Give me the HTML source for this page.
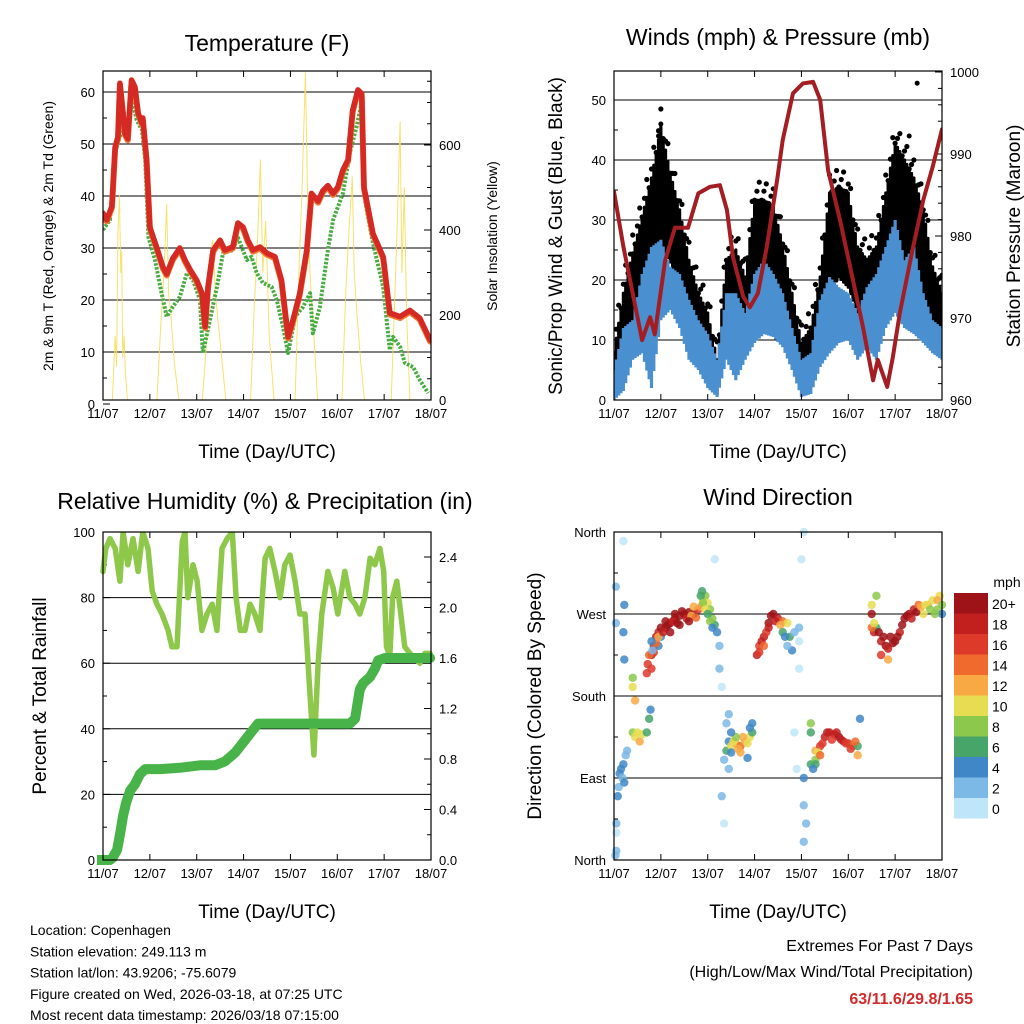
<!DOCTYPE html>
<html><head><meta charset="utf-8"><style>
body{margin:0;background:#fff;}
svg{display:block;font-family:"Liberation Sans",sans-serif;}
</style></head><body>
<svg id="s" width="1024" height="1024" viewBox="0 0 1024 1024"></svg>
<script>
// ---------- DATA ----------
const dayLabels=["11/07","12/07","13/07","14/07","15/07","16/07","17/07","18/07"];
const tempTimes=[0,0.08,0.19,0.26,0.32,0.36,0.40,0.47,0.53,0.61,0.68,0.75,0.83,0.85,0.93,1.00,1.15,1.28,1.36,1.49,1.64,1.75,1.86,2.00,2.11,2.18,2.24,2.35,2.50,2.60,2.77,2.88,2.99,3.09,3.20,3.35,3.50,3.67,3.81,3.95,4.05,4.20,4.35,4.45,4.59,4.69,4.80,4.91,5.01,5.12,5.23,5.33,5.44,5.52,5.57,5.76,5.98,6.12,6.34,6.55,6.76,6.98];
const tempT=[36.7,35.4,38,49.5,51.4,61.7,58.5,52,51,62.3,61,56,54,55,47,34,30,26.3,25,28,30,27.7,25.8,23.8,21.3,14.9,22.5,29.6,31.5,29.6,30.2,34.8,34,31.5,29.6,30.2,29,28.3,23.8,12.9,16,21.3,29.6,40.5,39,41,42,40.5,41.7,45,47,56.5,60.4,59.7,41.7,32.8,28.3,17.5,16.8,18,16.5,12.3];
const dewTimes=[0,0.15,0.26,0.36,0.40,0.47,0.53,0.61,0.72,0.83,0.90,0.97,1.11,1.25,1.36,1.49,1.64,1.79,1.92,2.07,2.13,2.28,2.43,2.56,2.77,2.88,3.07,3.17,3.28,3.41,3.60,3.71,3.84,3.95,4.10,4.27,4.42,4.48,4.63,4.80,4.91,5.12,5.27,5.41,5.52,5.59,5.76,5.98,6.12,6.19,6.34,6.44,6.62,6.76,6.94];
const dewT=[33.5,35.4,48.3,51.4,55.2,51.4,50.8,59,54.6,52.7,47,32,27.7,21.3,16.8,18.7,20.6,25.2,23.8,20,9.8,16,22.5,29,29.6,32,27.7,28.3,25.2,23.3,22.5,20,14.9,9.8,16.8,18.7,21.3,13.6,18.7,29.6,35.4,40.5,48.3,53.3,57.9,39.2,31,22.5,10.4,12.9,11,7.9,7.1,4.6,2.1];
const solarTimes=[0,0.2,0.26,0.29,0.32,0.35,0.38,0.40,0.42,0.45,0.48,0.52,1.15,1.22,1.30,1.36,1.40,1.45,1.52,1.62,2.12,2.20,2.28,2.34,2.40,2.46,2.55,2.62,3.15,3.22,3.30,3.36,3.41,3.47,3.55,3.65,4.10,4.18,4.25,4.32,4.38,4.44,4.50,4.58,5.10,5.18,5.25,5.32,5.36,5.42,5.50,5.58,6.15,6.22,6.28,6.34,6.38,6.43,6.48,6.55,7.0];
const solarW=[0,0,150,80,400,480,300,350,100,150,60,0,0,150,300,460,250,200,90,0,0,120,330,376,250,180,80,0,0,200,380,565,300,420,150,0,0,300,500,770,400,250,150,0,0,250,400,525,300,200,90,0,0,220,420,655,300,500,200,0,0];
const windStepDays=0.2;
const gustHi=[7.8,17.8,24.5,30.5,37,45.5,37.8,31.7,23.3,17.8,14.5,6.7,23.3,25,20.5,33.3,33.3,32.2,26,17.8,9.5,12,20.5,34.5,35.5,34.5,25.5,23.3,25.5,34.5,42.8,40,37,31.7,22.2,17.8];
const gustLo=[0,6.7,12,14.5,20.5,26,23,17.8,12,9.5,7.8,1,11,13.3,11,17.8,18.8,17.8,14.5,7.8,2,3.3,8.8,17.8,20.5,18.8,14.5,12,11,17.8,23.3,23.3,20.5,17.8,13.3,9.5];
const windHi=[5,12,13.3,21,25.5,26.7,22.2,21,16.7,13.3,11,6.7,17.8,17.8,14.5,21,23.3,21,17.8,12,6.7,7.8,16.7,20.5,18.8,17.8,14.5,18.8,21,25.5,30,23.3,25.5,17.8,13.3,12];
const windLo=[0,1.5,6.7,7.8,2,13.3,15,12,6.7,5,2,0.5,6.7,3.3,6.7,9.5,11,10.5,8.8,5,0.5,1,5.5,7.8,9.5,10,6.7,8.8,6.7,12,14.5,12,11,9.5,7.8,6.7];
const gustPeakTimes=[0.95,1.0,6.47,6.3];
const gustPeakVals=[44,46,52.8,44];
const presTimes=[0,0.2,0.4,0.6,0.77,0.87,1.09,1.3,1.58,1.8,2.05,2.26,2.41,2.54,2.76,2.9,3.07,3.26,3.48,3.6,3.82,4.03,4.25,4.4,4.57,4.82,5.04,5.31,5.53,5.63,5.83,5.95,6.1,6.36,6.6,6.8,7.0];
const presMb=[985.4,978.7,973,967.3,970.1,968,977,981,981,985.2,986,986.2,983.2,977.4,972.6,971.3,973,978.7,986.8,991.7,997.4,998.6,998.8,996.6,988,982,976.2,969,962.4,964.9,961.6,965.2,970.6,978,984.4,988.4,993];
const rhTimes=[0,0.06,0.15,0.26,0.36,0.43,0.53,0.64,0.75,0.85,0.96,1.05,1.15,1.26,1.39,1.47,1.58,1.69,1.75,1.81,1.92,2.01,2.11,2.22,2.33,2.43,2.54,2.65,2.76,2.84,2.93,3.03,3.14,3.24,3.35,3.46,3.56,3.67,3.78,3.88,3.99,4.10,4.20,4.31,4.42,4.50,4.59,4.67,4.80,4.91,5.01,5.16,5.27,5.38,5.48,5.59,5.70,5.80,5.91,5.99,6.05,6.12,6.18,6.27,6.33,6.44,6.55,6.76,6.87,6.98];
const rhPct=[88,95,98,95,85,100,90,98,88,100,95,82,78,75,70,65,65,97,100,80,90,85,70,75,78,70,95,98,100,80,70,70,78,75,70,92,95,88,80,90,93,85,75,75,50,32,60,75,88,83,75,88,80,78,75,80,92,90,95,88,65,62,80,85,78,65,63,60,63,63];
const rainTimes=[-0.13,0.15,0.21,0.30,0.36,0.43,0.49,0.58,0.68,0.79,0.90,1.00,1.22,1.64,2.07,2.39,2.60,2.82,3.03,3.18,3.31,3.46,4.08,5.27,5.38,5.48,5.55,5.70,5.81,5.87,6.02,6.98];
const rainIn=[0,0,0.02,0.08,0.2,0.35,0.45,0.55,0.6,0.68,0.72,0.72,0.72,0.73,0.75,0.75,0.78,0.85,0.95,1.02,1.08,1.08,1.08,1.08,1.12,1.35,1.40,1.45,1.52,1.58,1.60,1.60];
const dirTimes=[0.05,0.05,0.08,0.1,0.12,0.15,0.18,0.2,0.22,0.05,0.03,0.25,0.28,0.04,0.04,0.2,0.22,0.22,0.2,
0.4,0.45,0.5,0.55,0.6,0.7,0.45,0.4,0.4,0.75,0.78,
0.8,0.8,0.85,0.9,0.95,1.0,1.0,0.95,1.1,1.2,1.3,1.4,1.5,1.6,1.7,1.8,1.85,1.9,1.95,2.0,2.05,2.1,2.15,2.2,2.25,2.25,2.3,2.4,2.35,2.3,2.35,2.15,
2.4,2.45,2.5,2.6,2.7,2.8,2.9,2.95,2.95,2.45,2.45,
3.05,3.1,3.2,3.3,3.4,3.5,3.6,3.7,3.75,3.8,3.85,3.95,3.95,4.0,4.05,3.95,3.85,3.9,
4.05,4.05,4.1,4.05,4.2,4.2,
4.2,4.3,4.4,4.5,4.6,4.7,4.8,4.9,5.0,5.1,5.2,5.2,5.25,4.3,
5.5,5.55,5.6,5.7,5.8,5.85,5.9,6.0,6.1,6.2,6.3,6.4,6.5,6.6,6.7,6.8,6.9,6.95,7.0,5.6,5.5,
0.85,0.9,0.95,1.05,1.1,1.15,1.25,1.3,1.35,1.45,1.55,1.65,1.7,1.75,1.6,1.4,1.2,0.75,0.7,0.72,0.8,0.82,
1.85,1.9,1.95,2.0,2.05,2.1,1.88,
2.5,2.55,2.65,2.75,2.85,2.7,2.6,2.5,2.9,2.85,
3.1,3.15,3.25,3.3,3.35,3.45,3.55,3.6,3.65,3.7,3.2,
4.35,4.45,4.55,4.65,4.75,4.85,4.95,5.05,5.15,4.3,4.25,4.4,
5.55,5.65,5.75,5.85,5.95,6.05,6.15,6.25,6.35,6.45,6.55,6.65,6.75,6.85,6.9,7.0,5.7,5.5];
const dirDeg=[10,40,70,80,95,100,90,105,85,30,5,115,120,300,260,250,280,220,350,
140,135,140,130,138,140,175,190,200,155,165,
210,225,235,245,250,255,245,235,255,260,265,268,270,272,270,275,278,285,290,282,275,265,258,250,235,210,190,150,110,70,40,330,
120,130,125,128,125,130,135,140,150,160,100,
225,235,245,260,270,265,262,260,245,230,250,255,240,330,360,210,140,100,
90,60,40,20,140,150,
105,120,125,135,140,138,135,130,128,125,115,125,155,110,
270,250,255,240,235,220,245,240,250,265,270,275,280,270,280,285,275,290,270,290,255,
228,238,245,250,262,258,262,270,260,273,265,268,278,266,262,258,250,225,205,215,240,230,
290,282,275,270,262,255,295,
118,130,122,135,128,118,135,140,145,112,
228,240,250,255,268,262,258,250,245,235,235,
118,128,140,132,140,132,128,122,130,105,100,115,
260,250,245,232,238,245,258,268,265,272,278,280,275,270,285,280,225,280];
const dirSpeed=[2,3,4,3,4,4,3,4,4,1,2,3,2,2,3,4,4,4,0,
8,10,10,12,11,7,12,10,8,6,4,
16,18,18,19,18,20,4,4,20,21,20,20,22,21,20,16,13,11,8,10,8,8,6,4,2,2,1,3,2,2,1,0,
7,4,10,12,14,12,10,7,4,3,3,
18,16,18,20,21,18,14,10,6,4,3,2,1,0,1,0,0,1,
4,3,2,3,7,8,
6,12,16,18,19,18,20,18,16,14,12,7,5,8,
20,18,6,19,20,13,20,20,18,20,20,19,14,10,12,10,8,10,4,8,14,
17,15,12,19,21,20,19,21,20,20,18,13,12,14,20,21,20,14,16,17,4,3,
7,9,10,7,8,5,6,
5,11,13,12,11,12,9,5,4,4,
17,19,16,18,20,19,12,7,4,3,14,
10,16,18,17,19,19,17,16,14,6,5,14,
10,20,20,19,20,20,21,20,19,20,12,11,9,8,12,8,16,11];
const speedColors=["#bfe6f8","#7cb9e6","#3f87c6","#47a56a","#8cc84b","#e7dd52","#f8a944","#ef6a2c","#dd3a2a","#c21f1f","#9e1318"];
const speedLabels=["0","2","4","6","8","10","12","14","16","18","20+"];

// ---------- RENDER ----------
const NS="http://www.w3.org/2000/svg";
const S=document.getElementById('s');
function mk(tag,attrs,parent){const e=document.createElementNS(NS,tag);for(const k in attrs)e.setAttribute(k,attrs[k]);(parent||S).appendChild(e);return e;}
function txt(x,y,s,size,anchor,parent,extra){const e=mk('text',Object.assign({x:x,y:y,'font-size':size,'text-anchor':anchor||'middle',fill:'#000'},extra||{}),parent);e.textContent=s;return e;}
function panel(name,x0,y0,x1,y1){
  const g=mk('g',{});
  
  
  const xs=t=>x0+(x1-x0)*t/7;
  return {g,x0,y0,x1,y1,xs};
}
function frame(P){
  const b=mk('rect',{x:P.x0,y:P.y0,width:P.x1-P.x0,height:P.y1-P.y0,fill:'none',stroke:'#000','stroke-width':1.2},P.g);
  
  
  for(let d=0;d<=7;d++){
    const x=P.xs(d);
    mk('line',{x1:x,x2:x,y1:P.y1,y2:P.y1-6,stroke:'#000','stroke-width':1},P.g);
    mk('line',{x1:x,x2:x,y1:P.y0,y2:P.y0+6,stroke:'#000','stroke-width':1},P.g);
    const l=txt(x,P.y1+18,dayLabels[d],13,'middle',P.g);
    
    
  }
  const xt=txt((P.x0+P.x1)/2,P.y1+58,'Time (Day/UTC)',19,'middle',P.g);
  
  
}
function yaxis(P,vals,labels,ys,side,grid,minor){
  vals.forEach((v,i)=>{
    const y=ys(v);
    if(grid && y>P.y0+2 && y<P.y1-2) mk('line',{x1:P.x0,x2:P.x1,y1:y,y2:y,stroke:'#000','stroke-width':1},P.g);
    const xe=side==='l'?P.x0:P.x1, dir=side==='l'?1:-1;
    mk('line',{x1:xe,x2:xe+dir*7,y1:y,y2:y,stroke:'#000','stroke-width':1},P.g);
    const l=txt(side==='l'?P.x0-8:P.x1+8,y+5,labels[i],13,side==='l'?'end':'start',P.g);
    
    
  });
  (minor||[]).forEach(v=>{const y=ys(v);const xe=side==='l'?P.x0:P.x1,dir=side==='l'?1:-1;
    mk('line',{x1:xe,x2:xe+dir*4,y1:y,y2:y,stroke:'#000','stroke-width':1},P.g);});
}
function vtitle(x,y,s,size,parent,name){const e=txt(x,y,s,size,'middle',parent,{transform:`rotate(-90 ${x} ${y})`});return e;}
function title(x,y,s,parent){const e=txt(x,y,s,23,'middle',parent);}
function path(P,xs,ys,T,V,attrs,name){
  let d='';T.forEach((t,i)=>{d+=(i?'L':'M')+xs(t).toFixed(1)+','+ys(V[i]).toFixed(1);});
  const e=mk('path',Object.assign({d:d,fill:'none','stroke-linejoin':'round','stroke-linecap':'round'},attrs),P.g);
  
  
  return e;
}
function interp(arr,f){const i=Math.floor(f),j=Math.min(arr.length-1,i+1),u=f-i;return arr[i]*(1-u)+arr[j]*u;}

// Panel 1
(function(){
  const P=panel('temperature-panel',103,71,431,400);
  const yL=v=>404-v*5.2;
  const yR=v=>400-v*85/200;
  yaxis(P,[0,10,20,30,40,50,60],['0','10','20','30','40','50','60'],yL,'l',true,[5,15,25,35,45,55]);
  yaxis(P,[0,200,400,600],['0','200','400','600'],yR,'r',false,[50,100,150,250,300,350,450,500,550,650,700,750]);
  const clip=mk('clipPath',{id:'c1'},P.g);mk('rect',{x:P.x0,y:P.y0,width:P.x1-P.x0,height:P.y1-P.y0},clip);
  const inner=mk('g',{'clip-path':'url(#c1)'},P.g);
  const Q={g:inner};
  path(Q,P.xs,yR,solarTimes,solarW,{stroke:'#f7dc52','stroke-width':1,opacity:0.85},'solar-insolation-line');
  path(Q,P.xs,yL,dewTimes,dewT,{stroke:'#46ad3f','stroke-width':4,'stroke-dasharray':'2.5,1.5','stroke-linecap':'butt'},'dewpoint-line');
  path(Q,P.xs,v=>yL(v)+1.5,tempTimes,tempT,{stroke:'#f07a30','stroke-width':6},'temp-9m-line');
  path(Q,P.xs,yL,tempTimes,tempT,{stroke:'#d52a24','stroke-width':5.5},'temp-2m-line');
  frame(P);
  title(267,51,'Temperature (F)',P.g);
  vtitle(53,236,'2m & 9m T (Red, Orange) & 2m Td (Green)',14,P.g,'y-axis-title');
  vtitle(497,236,'Solar Insolation (Yellow)',14,P.g,'y2-axis-title');
})();

// Panel 2
(function(){
  const P=panel('winds-panel',614,71,942,400);
  const yL=v=>400-v*6;
  const yR=v=>400-(v-960)*8.2;
  yaxis(P,[0,10,20,30,40,50],['0','10','20','30','40','50'],yL,'l',true,[5,15,25,35,45]);
  yaxis(P,[960,970,980,990,1000],['960','970','980','990','1000'],yR,'r',false,[962,964,966,968,972,974,976,978,982,984,986,988,992,994,996,998]);
  const clip=mk('clipPath',{id:'c2'},P.g);mk('rect',{x:P.x0,y:P.y0,width:P.x1-P.x0,height:P.y1-P.y0},clip);
  const inner=mk('g',{'clip-path':'url(#c2)'},P.g);
  const n=(gustHi.length-1);
  const sub=4;
  for(let k=0;k<=n*sub;k++){
    const f=k/sub, x=P.xs(f*windStepDays);
    const hi=interp(gustHi,f), lo=interp(gustLo,f);
    const e=mk('line',{x1:x,x2:x,y1:yL(lo),y2:yL(hi),stroke:'#000','stroke-width':3.2,'stroke-linecap':'round'},inner);
    
    
    mk('circle',{cx:x,cy:yL(hi+(k%3)*1.5),r:2.6,fill:'#000'},inner);
  }
  gustPeakTimes.forEach((t,i)=>{const c=mk('circle',{cx:P.xs(t),cy:yL(gustPeakVals[i]),r:2.5,fill:'#000'},inner);
    
    });
  for(let k=0;k<=n*sub;k++){
    const f=k/sub, x=P.xs(f*windStepDays);
    const hi=interp(windHi,f), lo=interp(windLo,f);
    const e=mk('line',{x1:x,x2:x,y1:yL(lo),y2:yL(hi),stroke:'#4a90d0','stroke-width':3.2},inner);
    
    
  }
  path({g:inner},P.xs,yR,presTimes,presMb,{stroke:'#a31d22','stroke-width':4},'pressure-line');
  frame(P);
  title(778,45,'Winds (mph) & Pressure (mb)',P.g);
  vtitle(562,236,'Sonic/Prop Wind & Gust (Blue, Black)',19,P.g,'y-axis-title');
  vtitle(1020,236,'Station Pressure (Maroon)',19,P.g,'y2-axis-title');
})();

// Panel 3
(function(){
  const P=panel('humidity-panel',103,532,431,860);
  const yL=v=>860-v*3.28;
  const yR=v=>860-v/0.4*50.5;
  yaxis(P,[0,20,40,60,80,100],['0','20','40','60','80','100'],yL,'l',true,[10,30,50,70,90]);
  yaxis(P,[0,0.4,0.8,1.2,1.6,2.0,2.4],['0.0','0.4','0.8','1.2','1.6','2.0','2.4'],yR,'r',false,[0.2,0.6,1.0,1.4,1.8,2.2]);
  const clip=mk('clipPath',{id:'c3'},P.g);mk('rect',{x:P.x0-6,y:P.y0,width:P.x1-P.x0+12,height:P.y1-P.y0+6},clip);
  const inner=mk('g',{'clip-path':'url(#c3)'},P.g);
  path({g:inner},P.xs,yL,rhTimes,rhPct,{stroke:'#8dc84b','stroke-width':5.5},'rh-line');
  path({g:inner},P.xs,yR,rainTimes,rainIn,{stroke:'#47b348','stroke-width':10},'precip-line');
  frame(P);
  title(265,509,'Relative Humidity (%) & Precipitation (in)',P.g);
  vtitle(46,696,'Percent & Total Rainfall',19,P.g,'y-axis-title');
})();

// Panel 4
(function(){
  const P=panel('wind-direction-panel',614,532,942,860);
  const yD=v=>860-v*0.9111;
  yaxis(P,[0,90,180,270,360],['North','East','South','West','North'],yD,'l',true,[45,135,225,315]);
  dirTimes.forEach((t,i)=>{
    const c=mk('circle',{cx:P.xs(t),cy:yD(dirDeg[i]),r:4.2,fill:speedColors[Math.min(10,Math.floor(dirSpeed[i]/2))],opacity:0.85},P.g);
    
    
  });
  frame(P);
  title(778,505,'Wind Direction',P.g);
  vtitle(541,696,'Direction (Colored By Speed)',19,P.g,'y-axis-title');
  const cb=mk('g',{});
  
  
  txt(1007,587,'mph',14,'middle',cb);
  const top=593,h=20.5;
  speedColors.slice().reverse().forEach((c,i)=>{
    const r=mk('rect',{x:954,y:top+i*h,width:34,height:h,fill:c},cb);
    
    
    const l=txt(992,top+i*h+16,speedLabels[10-i],14,'start',cb);
    
    
  });
})();

const info=["Location: Copenhagen","Station elevation: 249.113 m","Station lat/lon: 43.9206; -75.6079","Figure created on Wed, 2026-03-18, at 07:25 UTC","Most recent data timestamp: 2026/03/18 07:15:00"];
info.forEach((s,i)=>{const e=txt(30,935+i*21.3,s,14,'start');});
let e=txt(973,951,'Extremes For Past 7 Days',16,'end');
e=txt(973,977,'(High/Low/Max Wind/Total Precipitation)',16,'end');
e=txt(973,1004,'63/11.6/29.8/1.65',16,'end',null,{fill:'#d02a2a','font-weight':'bold'});
</script>
</body></html>
